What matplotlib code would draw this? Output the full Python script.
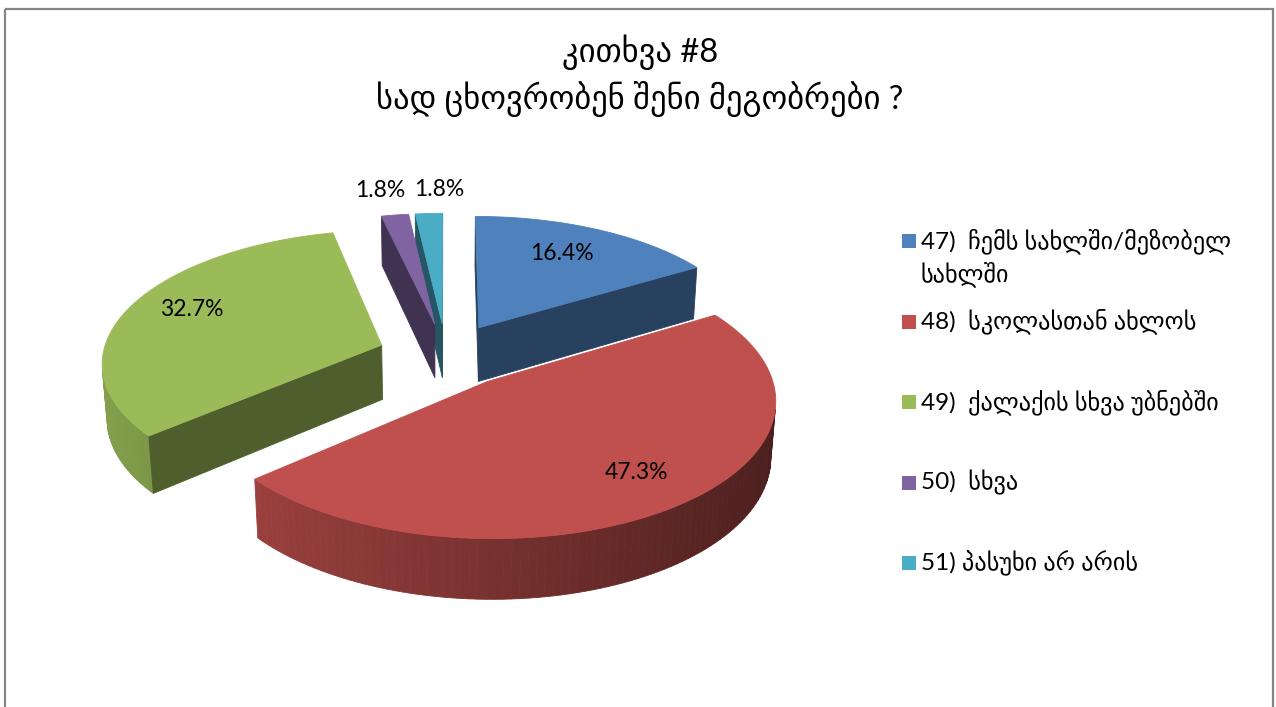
import numpy as np
import matplotlib
matplotlib.use('Agg')
import matplotlib.pyplot as plt
from matplotlib.patches import Polygon, Rectangle
from matplotlib.colors import to_rgb

# Data (percent of answers)
title_lines = ['კითხვა #8', 'სად ცხოვრობენ შენი მეგობრები ?']
labels = ['47)  ჩემს სახლში/მეზობელ\nსახლში',
          '48)  სკოლასთან ახლოს',
          '49)  ქალაქის სხვა უბნებში',
          '50)  სხვა',
          '51) პასუხი არ არის']
shares = [16.4, 47.3, 32.7, 1.8, 1.8]
colors = ['#4F81BD', '#C0504D', '#9BBB59', '#8064A2', '#4BACC6']

W, H = 1276, 707
fig = plt.figure(figsize=(W / 100, H / 100), dpi=100)
ax = fig.add_axes([0, 0, 1, 1])
ax.set_xlim(0, W)
ax.set_ylim(H, 0)
ax.axis('off')

fonts = ['Lato', 'DejaVu Sans']

# 3d view settings (pixels / unit radius)
cx, cy, S = 446, 355, 279
elev = np.radians(28)
se, ce = np.sin(elev), np.cos(elev)
D = 7.3          # camera distance
T = 0.225        # pie thickness
E = 0.245        # explode distance
cam = np.array([0, -D * ce, D * se])


def proj(u, v, h):
    u, v, h = np.asarray(u, float), np.asarray(v, float), np.asarray(h, float)
    Y = v * se + h * ce
    Z = v * ce - h * se
    f = D / (D + Z)
    return cx + S * u * f, cy - S * Y * f


def shade(c, k):
    return tuple(np.clip(np.array(to_rgb(c)) * k, 0, 1))


def face(pts, color, z=1):
    xs, ys = proj(pts[:, 0], pts[:, 1], pts[:, 2])
    ax.add_patch(Polygon(np.column_stack([xs, ys]), closed=True,
                         facecolor=color, edgecolor=color, lw=0.6, zorder=z))


def visible(normal, point):
    return np.dot(normal, cam - point) > 0


# slice angles, clockwise from 12 o'clock
bounds = 90 - np.concatenate([[0], np.cumsum(shares)]) * 3.6
slices = []
for i in range(len(shares)):
    a0, a1 = bounds[i], bounds[i + 1]
    am = np.radians((a0 + a1) / 2)
    off = np.array([E * np.cos(am), E * np.sin(am), 0])
    cen = off + 0.5 * np.array([np.cos(am), np.sin(am), 0])
    slices.append((np.linalg.norm(cam - cen), i, a0, a1, off))

for _, i, a0, a1, off in sorted(slices, reverse=True):
    col = colors[i]
    n = max(int(abs(a0 - a1) / 1.5), 2)
    t = np.radians(np.linspace(a0, a1, n + 1))
    # outer wall
    for k in range(n):
        tm = (t[k] + t[k + 1]) / 2
        nrm = np.array([np.cos(tm), np.sin(tm), 0])
        p = off + nrm
        if visible(nrm, p):
            q = np.array([[np.cos(t[k]), np.sin(t[k]), 0],
                          [np.cos(t[k + 1]), np.sin(t[k + 1]), 0],
                          [np.cos(t[k + 1]), np.sin(t[k + 1]), -T],
                          [np.cos(t[k]), np.sin(t[k]), -T]]) + off
            face(q, shade(col, 0.62 - 0.24 * np.cos(tm)), 2)
    # radial cut faces
    for a, sgn in ((np.radians(a0), 1), (np.radians(a1), -1)):
        nrm = np.array([np.cos(a + sgn * np.pi / 2), np.sin(a + sgn * np.pi / 2), 0])
        p = off + 0.5 * np.array([np.cos(a), np.sin(a), -T])
        if visible(nrm, p):
            q = np.array([[0, 0, 0], [np.cos(a), np.sin(a), 0],
                          [np.cos(a), np.sin(a), -T], [0, 0, -T]]) + off
            face(q, shade(col, 0.5), 2)
    # top
    top = np.vstack([[0, 0, 0], np.column_stack([np.cos(t), np.sin(t), np.zeros_like(t)])]) + off
    face(top, col, 3)

# percentage labels
label_r = [0.7, 0.77, 0.75, 1.3, 1.3]
nudge = [(-2, -4), (6, -2), (0, -6), (-4, 4), (14, 5)]
for i, s in enumerate(shares):
    am = np.radians((bounds[i] + bounds[i + 1]) / 2)
    r = E + label_r[i]
    x, y = proj(r * np.cos(am), r * np.sin(am), 0)
    ax.text(x + nudge[i][0], y + nudge[i][1], f'{s:.1f}%', ha='center', va='center',
            fontsize=16.5, family=fonts, color='black', zorder=5)

# title
for j, line in enumerate(title_lines):
    ax.text(640, 52 + 47 * j, line, ha='center', va='center', fontsize=23.5,
            family=fonts, color='black')

# legend
for i, lab in enumerate(labels):
    y0 = 241 + 80.5 * i
    ax.add_patch(Rectangle((902, y0 - 7), 14, 14, facecolor=colors[i], edgecolor='none'))
    for j, line in enumerate(lab.split('\n')):
        ax.text(921, y0 + 33 * j, line, ha='left', va='center', fontsize=17.5,
                family=fonts, color='black')

# chart border
ax.add_patch(Rectangle((4.5, 8.5), 1268.5, 720, facecolor='none',
                       edgecolor='#868686', lw=1.6, zorder=0))

plt.savefig('out.png', dpi=100)
